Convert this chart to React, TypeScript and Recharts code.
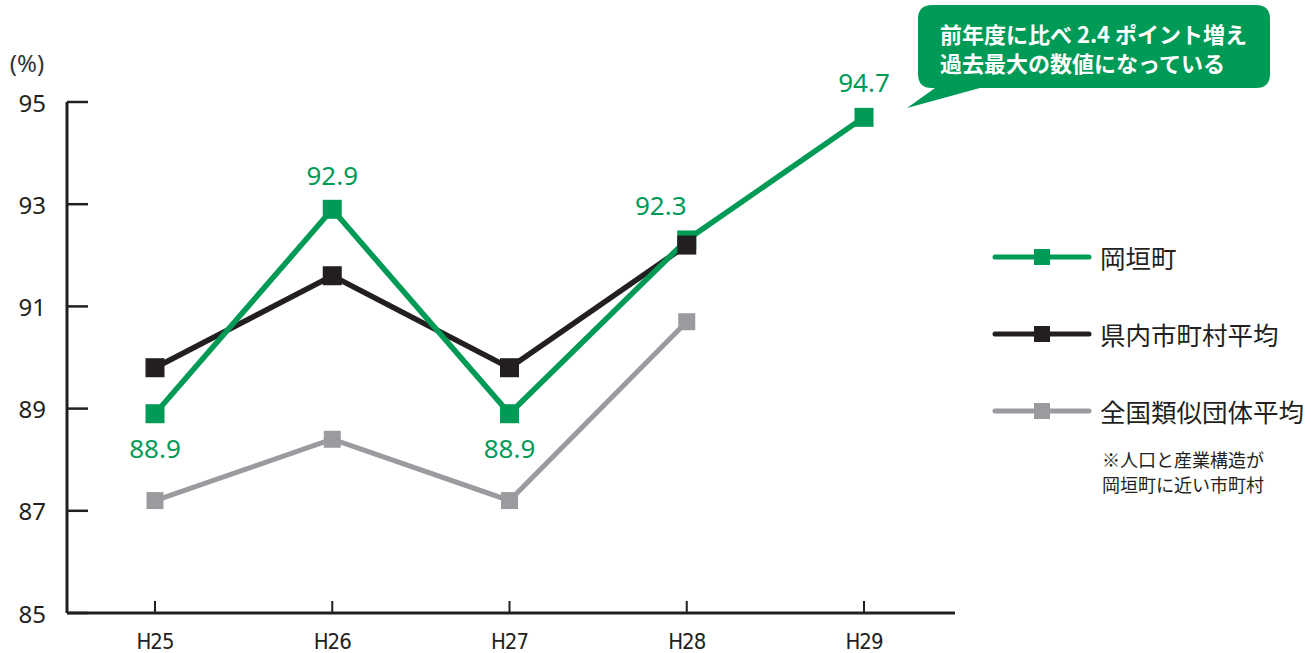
import { LineChart, Line, XAxis, YAxis, Legend, LabelList } from "recharts";

const years = ["H25", "H26", "H27", "H28", "H29"];
const okagaki = [88.9, 92.9, 88.9, 92.3, 94.7];
const prefAvg = [89.8, 91.6, 89.8, 92.2, null];
const similarAvg = [87.2, 88.4, 87.2, 90.7, null];
const yTicks = [85, 87, 89, 91, 93, 95];

const names = {
  okagaki: "岡垣町",
  prefAvg: "県内市町村平均",
  similarAvg: "全国類似団体平均",
};

const GREEN = "#009a57";
const BLACK = "#231f20";
const GRAY = "#9a9b9f";
const AXIS = "#231f20";
const FONT = "'Noto Sans CJK JP', 'Noto Sans', sans-serif";

const data = years.map((y, i) => ({
  year: y,
  okagaki: okagaki[i],
  prefAvg: prefAvg[i],
  similarAvg: similarAvg[i],
}));

const square = (color: string, size: number) => (props: any) => {
  if (props.cx == null || props.cy == null || props.value == null) return null;
  return (
    <rect
      key={props.key ?? `${color}-${props.index}`}
      x={props.cx - size / 2}
      y={props.cy - size / 2}
      width={size}
      height={size}
      fill={color}
    />
  );
};

// above / below and a little nudge for the 岡垣町 value labels
const labelShift = [
  { dx: 0, dy: 34 },
  { dx: 0, dy: -34 },
  { dx: 0, dy: 34 },
  { dx: -26, dy: -35 },
  { dx: 0, dy: -35 },
];

const GreenLabel = (props: any) => {
  const { x, y, value, index } = props;
  if (value == null) return null;
  const s = labelShift[index];
  return (
    <text
      x={x + s.dx}
      y={y + s.dy}
      textAnchor="middle"
      dominantBaseline="central"
      fill={GREEN}
      fontSize={26}
      fontFamily="'Noto Sans', sans-serif"
    >
      {value.toFixed(1)}
    </text>
  );
};

const YTick = (props: any) => {
  const { x, y, payload } = props;
  return (
    <g>
      <line x1={x} y1={y} x2={x + 21} y2={y} stroke={AXIS} strokeWidth={2.5} />
      <text
        x={x - 21}
        y={y}
        textAnchor="end"
        dominantBaseline="central"
        fontSize={24}
        fill="#231f20"
        fontFamily="'Noto Sans', sans-serif"
      >
        {payload.value}
      </text>
    </g>
  );
};

const XTick = (props: any) => {
  const { x, y, payload } = props;
  return (
    <g>
      <line x1={x} y1={y - 12} x2={x} y2={y} stroke={AXIS} strokeWidth={2} />
      <text
        x={x}
        y={y + 28}
        textAnchor="middle"
        dominantBaseline="central"
        fontSize={22}
        fill="#231f20"
        fontFamily="'Liberation Sans Narrow', 'DejaVu Sans Condensed', sans-serif"
        letterSpacing={-1}
      >
        {payload.value}
      </text>
    </g>
  );
};

const legendItems = [
  { key: "okagaki", color: GREEN },
  { key: "prefAvg", color: BLACK },
  { key: "similarAvg", color: GRAY },
];

const renderLegend = () => (
  <div style={{ fontFamily: FONT, color: "#231f20" }}>
    {legendItems.map((it) => (
      <div
        key={it.key}
        style={{ display: "flex", alignItems: "center", height: 77 }}
      >
        <svg width={100} height={20} style={{ marginRight: 8 }}>
          <line
            x1={3}
            y1={10}
            x2={97}
            y2={10}
            stroke={it.color}
            strokeWidth={5}
            strokeLinecap="round"
          />
          <rect x={42} y={2} width={16} height={16} fill={it.color} />
        </svg>
        <span style={{ fontSize: 25.5 }}>{(names as any)[it.key]}</span>
      </div>
    ))}
    <div style={{ marginLeft: 110, marginTop: -2, fontSize: 18, lineHeight: "25px" }}>
      ※人口と産業構造が
      <br />
      岡垣町に近い市町村
    </div>
  </div>
);

export default function App() {
  return (
    <div style={{ position: "absolute", left: 0, top: 0, width: 1311, height: 653 }}>
      <LineChart
        width={1311}
        height={653}
        data={data}
        margin={{ top: 102, right: 356, bottom: 0, left: 0 }}
      >
        <XAxis
          dataKey="year"
          height={40}
          padding={{ left: 88, right: 91 }}
          tickSize={0}
          tickMargin={0}
          tick={<XTick />}
          axisLine={{ stroke: AXIS, strokeWidth: 3 }}
          interval={0}
        />
        <YAxis
          width={67}
          domain={[85, 95]}
          ticks={yTicks}
          tickSize={0}
          tickMargin={0}
          tick={<YTick />}
          axisLine={{ stroke: AXIS, strokeWidth: 3 }}
          interval={0}
        />
        <Legend
          layout="vertical"
          align="center"
          verticalAlign="middle"
          content={renderLegend}
          wrapperStyle={{ position: "absolute", left: 992, top: 218, width: 320 }}
        />
        <Line
          dataKey="similarAvg"
          name={names.similarAvg}
          stroke={GRAY}
          strokeWidth={5}
          dot={square(GRAY, 17)}
          activeDot={false}
          isAnimationActive={false}
          connectNulls={false}
        />
        <Line
          dataKey="prefAvg"
          name={names.prefAvg}
          stroke={BLACK}
          strokeWidth={5.5}
          dot={false}
          activeDot={false}
          isAnimationActive={false}
        />
        <Line
          dataKey="okagaki"
          name={names.okagaki}
          stroke={GREEN}
          strokeWidth={5.5}
          dot={square(GREEN, 19)}
          activeDot={false}
          isAnimationActive={false}
        >
          <LabelList dataKey="okagaki" content={<GreenLabel />} />
        </Line>
        {/* black markers drawn last so they sit over the green line */}
        <Line
          dataKey="prefAvg"
          legendType="none"
          stroke="none"
          dot={square(BLACK, 19)}
          activeDot={false}
          isAnimationActive={false}
        />
      </LineChart>
      <svg
        width={1311}
        height={653}
        style={{ position: "absolute", left: 0, top: 0, pointerEvents: "none" }}
      >
        <text
          x={27}
          y={62}
          textAnchor="middle"
          dominantBaseline="central"
          fontSize={24}
          fill="#333"
          fontFamily="'Noto Sans', sans-serif"
        >
          (%)
        </text>
        <path
          d="M932,5 H1256 Q1270,5 1270,19 V74 Q1270,88 1256,88 H980 L907,108 L935,88 H932 Q918,88 918,74 V19 Q918,5 932,5 Z"
          fill={GREEN}
        />
        <text
          x={940}
          y={33}
          fill="#fff"
          fontSize={22}
          fontWeight="bold"
          dominantBaseline="central"
          fontFamily={FONT}
        >
          前年度に比べ 2.4 ポイント増え
        </text>
        <text
          x={940}
          y={62}
          fill="#fff"
          fontSize={22}
          fontWeight="bold"
          dominantBaseline="central"
          fontFamily={FONT}
        >
          過去最大の数値になっている
        </text>
      </svg>
    </div>
  );
}
